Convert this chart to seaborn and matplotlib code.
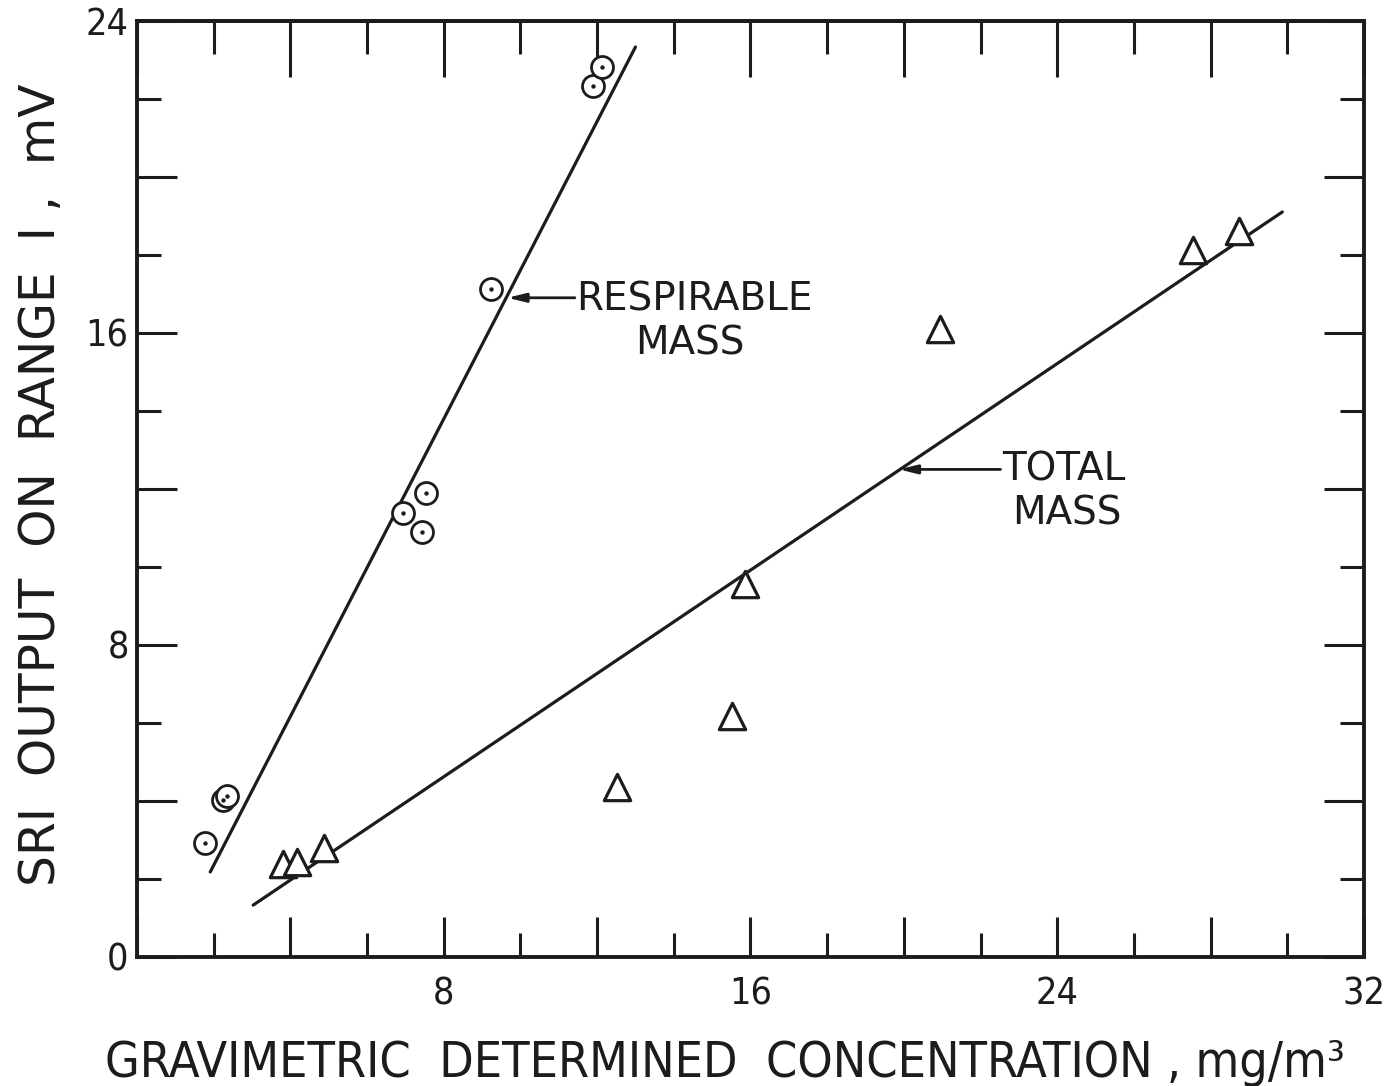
import matplotlib
matplotlib.use("Agg")
import matplotlib.pyplot as plt
from matplotlib.ticker import MultipleLocator, FuncFormatter
import seaborn as sns

# Respirable-mass samples (circles with a centre dot)
resp_conc = [1.78, 2.25, 2.35, 6.95, 7.42, 7.55, 9.22, 11.90, 12.14]
resp_sri = [2.92, 4.03, 4.12, 11.38, 10.90, 11.90, 17.13, 22.33, 22.82]

# Total-mass samples (triangles)
total_conc = [3.81, 4.18, 4.88, 12.53, 15.51, 15.85, 20.94, 27.55, 28.75]
total_sri = [2.38, 2.44, 2.80, 4.36, 6.18, 9.56, 16.10, 18.13, 18.62]

# Calibration lines (end points)
resp_fit_x = [1.91, 13.00]
resp_fit_y = [2.18, 23.33]
total_fit_x = [3.03, 29.87]
total_fit_y = [1.33, 19.10]

# Axis labelling
x_ticks = [0, 8, 16, 24, 32]
x_tick_labels = ["", "8", "16", "24", "32"]
y_ticks = [0, 8, 16, 24]
y_tick_labels = ["0", "8", "16", "24"]

INK = "#1e1b18"

sns.set_theme(style="ticks")
plt.rcParams["font.family"] = ["DejaVu Sans"]
plt.rcParams["axes.edgecolor"] = INK
plt.rcParams["text.color"] = INK
plt.rcParams["axes.labelcolor"] = INK
plt.rcParams["xtick.color"] = INK
plt.rcParams["ytick.color"] = INK

fig = plt.figure(figsize=(13.88, 10.86), dpi=100)
ax = fig.add_axes([0.0987, 0.1188, 0.8840, 0.8620])

# fitted lines
sns.lineplot(x=resp_fit_x, y=resp_fit_y, ax=ax, color=INK, lw=2.3,
             estimator=None, sort=False)
sns.lineplot(x=total_fit_x, y=total_fit_y, ax=ax, color=INK, lw=2.3,
             estimator=None, sort=False)

# data points
sns.scatterplot(x=resp_conc, y=resp_sri, ax=ax, marker="o", s=250,
                facecolor="white", edgecolor=INK, linewidth=2.0, zorder=3)
sns.scatterplot(x=resp_conc, y=resp_sri, ax=ax, marker="o", s=10,
                color=INK, linewidth=0, zorder=4)
sns.scatterplot(x=total_conc, y=total_sri, ax=ax, marker="^", s=360,
                facecolor="white", edgecolor=INK, linewidth=2.3, zorder=3)

ax.set_xlim(0, 32)
ax.set_ylim(0, 24)

# ticks: long every 4, short every 2, labels every 8
xlab = dict(zip(x_ticks, x_tick_labels))
ylab = dict(zip(y_ticks, y_tick_labels))
ax.xaxis.set_major_locator(MultipleLocator(4))
ax.xaxis.set_minor_locator(MultipleLocator(2))
ax.yaxis.set_major_locator(MultipleLocator(4))
ax.yaxis.set_minor_locator(MultipleLocator(2))
ax.xaxis.set_major_formatter(FuncFormatter(lambda v, p: xlab.get(int(round(v)), "")))
ax.yaxis.set_major_formatter(FuncFormatter(lambda v, p: ylab.get(int(round(v)), "")))

ax.tick_params(axis="both", which="major", direction="in", length=29, width=2.2,
               labelsize=27, top=False, right=True)
ax.tick_params(axis="both", which="minor", direction="in", length=17, width=2.2,
               top=False, right=True)
ax.tick_params(axis="x", which="major", pad=14)
ax.tick_params(axis="y", which="major", pad=6)
for lbl in ax.get_xticklabels() + ax.get_yticklabels():
    lbl.set_fontstretch("condensed")

top = ax.secondary_xaxis("top")
top.xaxis.set_major_locator(MultipleLocator(4))
top.xaxis.set_minor_locator(MultipleLocator(2))
top.tick_params(which="major", direction="in", length=40, width=2.2, labeltop=False)
top.tick_params(which="minor", direction="in", length=24, width=2.2)
for s in top.spines.values():
    s.set_linewidth(2.8)

for s in ax.spines.values():
    s.set_visible(True)
    s.set_linewidth(2.8)

ax.set_xlabel("GRAVIMETRIC  DETERMINED  CONCENTRATION , mg/m³", fontsize=36,
              fontstretch="condensed", va="baseline", ha="center")
ax.xaxis.set_label_coords(0.479, -0.128)
ax.set_ylabel("SRI  OUTPUT  ON  RANGE  I ,  mV", fontsize=35,
              va="center", ha="center")
ax.yaxis.set_label_coords(-0.078, 0.504)

# curve labels with arrows
arrow = dict(arrowstyle="-|>,head_length=0.9,head_width=0.22", color=INK, lw=2.0,
             shrinkA=0, shrinkB=0)
ax.annotate("", xy=(9.66, 16.9), xytext=(11.42, 16.9), arrowprops=arrow)
ax.text(11.45, 16.85, "RESPIRABLE", fontsize=28, ha="left", va="center")
ax.text(14.41, 15.74, "MASS", fontsize=28, ha="center", va="center")

ax.annotate("", xy=(19.87, 12.5), xytext=(22.52, 12.5), arrowprops=arrow)
ax.text(22.55, 12.5, "TOTAL", fontsize=28, ha="left", va="center")
ax.text(24.26, 11.38, "MASS", fontsize=28, ha="center", va="center")

fig.savefig("out.png", dpi=100, facecolor="white")
